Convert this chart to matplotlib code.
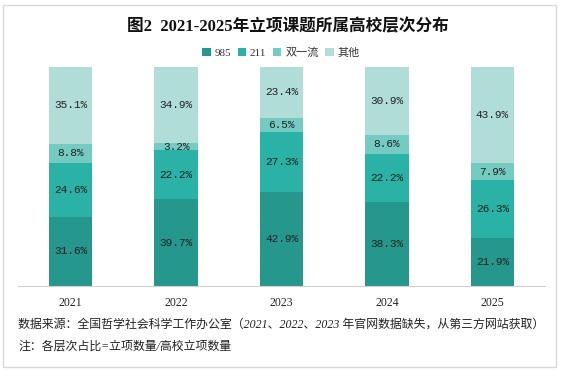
import matplotlib.pyplot as plt
from matplotlib.patches import Rectangle

plt.rcParams['font.family'] = ['Liberation Serif', 'Noto Sans CJK SC', 'DejaVu Sans']

years = ['2021', '2022', '2023', '2024', '2025']
tiers = ['985', '211', '双一流', '其他']
share_985 = [31.6, 39.7, 42.9, 38.3, 21.9]
share_211 = [24.6, 22.2, 27.3, 22.2, 26.3]
share_syl = [8.8, 3.2, 6.5, 8.6, 7.9]
share_other = [35.1, 34.9, 23.4, 30.9, 43.9]
colors = ['#25978d', '#2bb2a6', '#73cbc2', '#b0ddd8']

fig = plt.figure(figsize=(5.61, 3.70), dpi=100)
ax = fig.add_axes([18 / 561, 1 - 286 / 370, 527 / 561, 219 / 370])

x = range(len(years))
bottom = [0.0] * len(years)
for name, vals, col in zip(tiers, [share_985, share_211, share_syl, share_other], colors):
    ax.bar(x, vals, width=0.41, bottom=bottom, color=col, label=name)
    for i, v in enumerate(vals):
        ax.text(i, bottom[i] + v / 2, f'{v:.1f}%', ha='center', va='center',
                fontsize=8, family=['Liberation Mono'], color='#222222')
    bottom = [b + v for b, v in zip(bottom, vals)]

ax.set_xlim(-0.5, len(years) - 0.5)
ax.set_ylim(0, 100)
ax.set_xticks(list(x))
ax.set_xticklabels(years, fontsize=8.5, color='#222222')
ax.tick_params(axis='x', length=0, pad=8)
ax.set_yticks([])
for s in ['left', 'right', 'top']:
    ax.spines[s].set_visible(False)
ax.spines['bottom'].set_color('#d0d0d0')

fig.text(288 / 561, 1 - 27 / 370, '图2  2021-2025年立项课题所属高校层次分布', ha='center', va='center',
         fontsize=12, fontweight='bold', color='#111111')
fig.legend(loc='center', bbox_to_anchor=(281 / 561, 1 - 53 / 370), ncol=4, frameon=False,
           fontsize=8, handlelength=0.75, handleheight=0.75, handletextpad=0.35,
           columnspacing=0.6, labelcolor='#333333')

fig.text(18 / 561, 1 - 325 / 370,
         '数据来源：全国哲学社会科学工作办公室（2021、2022、2023 年官网数据缺失，从第三方网站获取）',
         ha='left', va='center', fontsize=8.6, style='italic', color='#222222')
fig.text(18 / 561, 1 - 347 / 370, '注：各层次占比=立项数量/高校立项数量',
         ha='left', va='center', fontsize=8.6, style='italic', color='#222222')

fig.patches.append(Rectangle((3 / 561, 3 / 370), 553 / 561, 362 / 370, transform=fig.transFigure,
                             fill=False, edgecolor='#d8d8d8', linewidth=1))

fig.savefig('out.png', dpi=100)
